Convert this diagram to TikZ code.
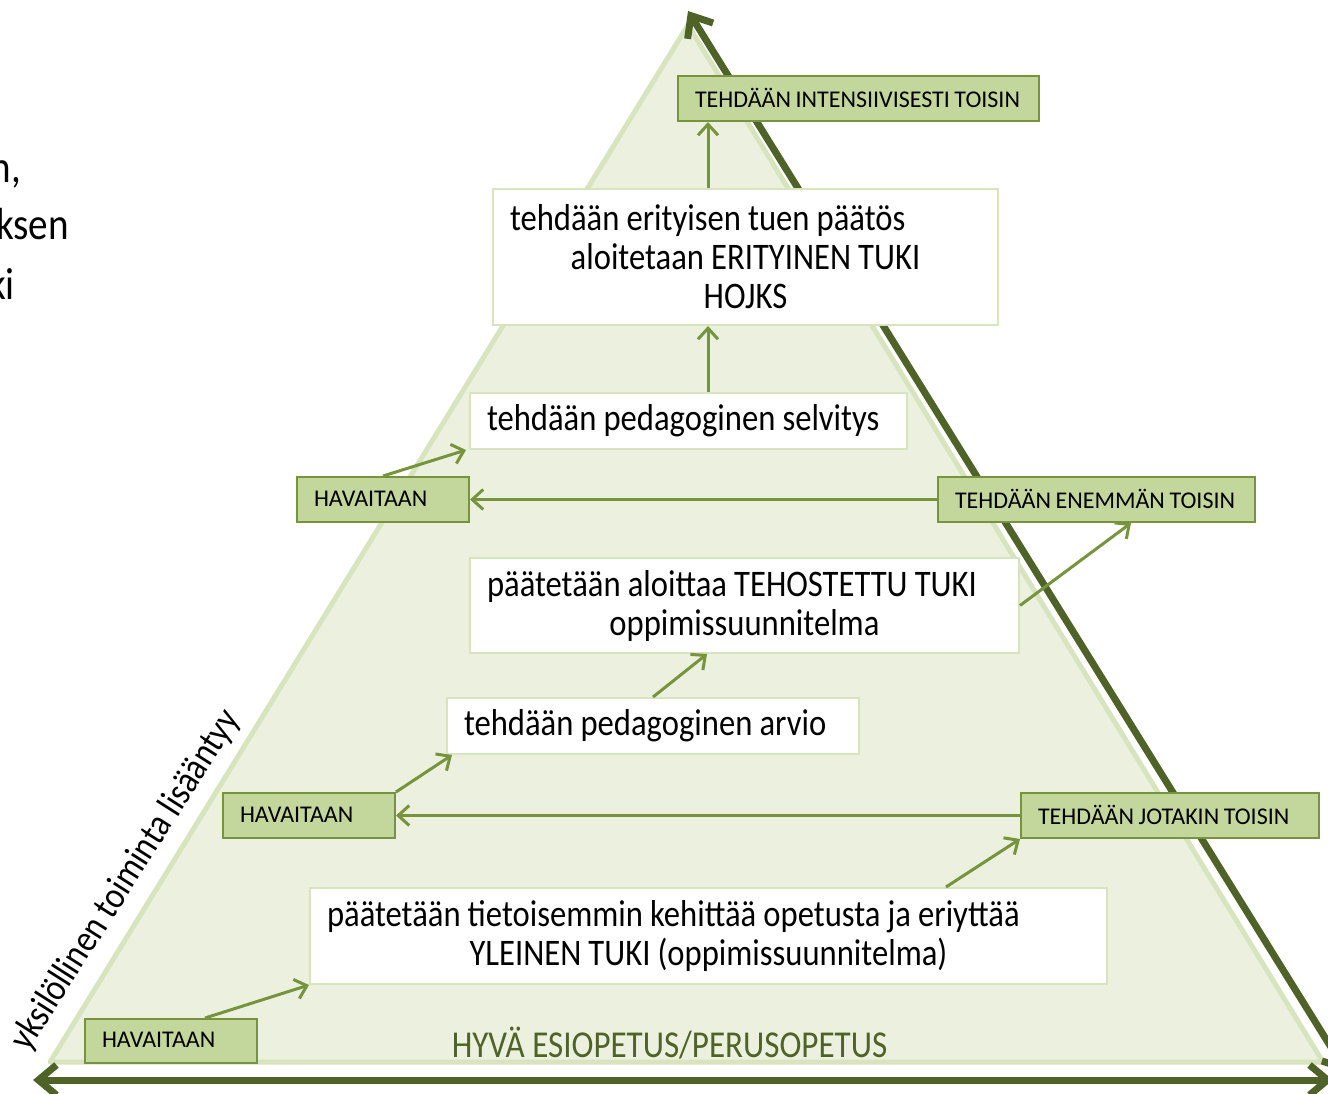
\documentclass[tikz,border=0pt]{standalone}
\usepackage{fontspec}
\setmainfont{Carlito}
\newfontfamily\mainf{Carlito}[FakeStretch=0.87]
\usetikzlibrary{arrows.meta,calc}
\definecolor{trifill}{HTML}{EBF1DE}
\definecolor{triedge}{HTML}{D7E4BD}
\definecolor{darkol}{HTML}{4F6228}
\definecolor{midgr}{HTML}{77933C}
\definecolor{labfill}{HTML}{C3D69B}
\newcommand\tightspace{\spaceskip=0.19em\relax}
\begin{document}
\begin{tikzpicture}[x=1pt,y=-1pt,
  lab/.style={draw=midgr, line width=2pt, fill=labfill, inner xsep=17pt, inner ysep=0pt,
    align=left, anchor=north west, font=\fontsize{24}{28}\selectfont,
    execute at begin node=\tightspace},
  mainbox/.style={draw=triedge, line width=2pt, fill=white, inner xsep=17pt, inner ysep=0pt,
    align=center, anchor=north west, font=\mainf\fontsize{37.5}{39}\selectfont,
    execute at begin node=\tightspace},
  conn/.style={draw=midgr, line width=3pt, -{Straight Barb[length=11pt,width=20pt]}},
  darkarrow/.style={draw=darkol, line width=7pt},
  bigtext/.style={font=\mainf\fontsize{45}{50}\selectfont}
]
\useasboundingbox (0,0) rectangle (1328,1094);
\clip (0,0) rectangle (1328,1094);

% pyramid
\draw[fill=trifill, draw=triedge, line width=5pt, line join=round] (688,25) -- (1323,1062) -- (50,1062) -- cycle;

% dark axes
\coordinate (hL) at (33,1080);
\coordinate (hR) at (1333,1080);
\coordinate (dTop) at (688,11);
\coordinate (dBot) at (1347,1073);
\draw[darkarrow, {Straight Barb[length=18pt,width=30pt]}-{Straight Barb[length=18pt,width=30pt]}] (hL) -- (hR);
\draw[darkarrow, {Straight Barb[length=18pt,width=30pt]}-{Straight Barb[length=18pt,width=30pt]}] (dBot) -- (dTop);

% cut-off text on the left
\node[bigtext, anchor=base east, inner sep=0pt] (lt1) at (21,183) {n,};
\node[bigtext, anchor=base east, inner sep=0pt] (lt2) at (69,240) {ksen};
\node[bigtext, anchor=base east, inner sep=0pt] (lt3) at (15,299) {ki};

% rotated label
\node[font=\mainf\fontsize{38}{40}\selectfont, rotate=57.5, inner sep=0pt] (yks) at (126,880) {yksilöllinen toiminta lisääntyy};

% bottom text
\node[font=\mainf\fontsize{38}{40}\selectfont, text=darkol, anchor=base, inner sep=0pt] (hyva) at (669.5,1057) {HYVÄ ESIOPETUS/PERUSOPETUS};

% label boxes
\node[lab, text width=138pt, minimum height=44pt] (hav1) at (84,1018) {\raisebox{1.5pt}{HAVAITAAN}};
\node[lab, text width=138pt, minimum height=45pt] (hav2) at (222,792) {\raisebox{1.5pt}{HAVAITAAN}};
\node[lab, text width=138pt, minimum height=45pt] (hav3) at (296,476) {\raisebox{1.5pt}{HAVAITAAN}};
\node[lab, text width=283pt, minimum height=45pt] (enemman) at (937,476) {\raisebox{1.5pt}{TEHDÄÄN ENEMMÄN TOISIN}};
\node[lab, text width=264pt, minimum height=45pt] (jotakin) at (1020,792) {\raisebox{1.5pt}{TEHDÄÄN JOTAKIN TOISIN}};
\node[lab, text width=327pt, minimum height=45pt] (intens) at (677,75) {\raisebox{1.5pt}{TEHDÄÄN INTENSIIVISESTI TOISIN}};

% white boxes
\node[mainbox, text width=471pt, minimum height=136pt] (erit) at (492,188)
  {\makebox[471pt][l]{tehdään erityisen tuen päätös}\\ \mbox{aloitetaan ERITYINEN TUKI}\\ \mbox{HOJKS}};
\node[mainbox, align=left, text width=403pt, minimum height=56pt] (selvitys) at (469,392)
  {\mbox{tehdään pedagoginen selvitys}};
\node[mainbox, text width=515pt, minimum height=95pt] (tehostettu) at (469,557)
  {\makebox[515pt][l]{päätetään aloittaa TEHOSTETTU TUKI}\\ \mbox{oppimissuunnitelma}};
\node[mainbox, align=left, text width=378pt, minimum height=56pt] (arvio) at (446,697)
  {\mbox{tehdään pedagoginen arvio}};
\node[mainbox, text width=763pt, minimum height=96pt] (yleinen) at (309,887)
  {\makebox[763pt][l]{päätetään tietoisemmin kehittää opetusta ja eriyttää}\\ \mbox{YLEINEN TUKI (oppimissuunnitelma)}};

% connectors
\draw[conn] ([xshift=-53pt]hav1.north east) -- (yleinen.south west);
\draw[conn] ([xshift=237.5pt]yleinen.north) -- (jotakin.south west);
\draw[conn] (jotakin.west) -- (hav2.east);
\draw[conn] (hav2.north east) -- ([xshift=6pt]arvio.south west);
\draw[conn] (arvio.north) -- ([xshift=-37.5pt]tehostettu.south);
\draw[conn] (tehostettu.east) -- ([xshift=34.5pt]enemman.south);
\draw[conn] (enemman.west) -- (hav3.east);
\draw[conn] (hav3.north) -- ([xshift=-3pt]selvitys.south west);
\draw[conn] ([xshift=19.5pt]selvitys.north) -- ([xshift=-37.5pt]erit.south);
\draw[conn] ([xshift=-37.5pt]erit.north) -- ([xshift=-150.5pt]intens.south);
\end{tikzpicture}
\end{document}
